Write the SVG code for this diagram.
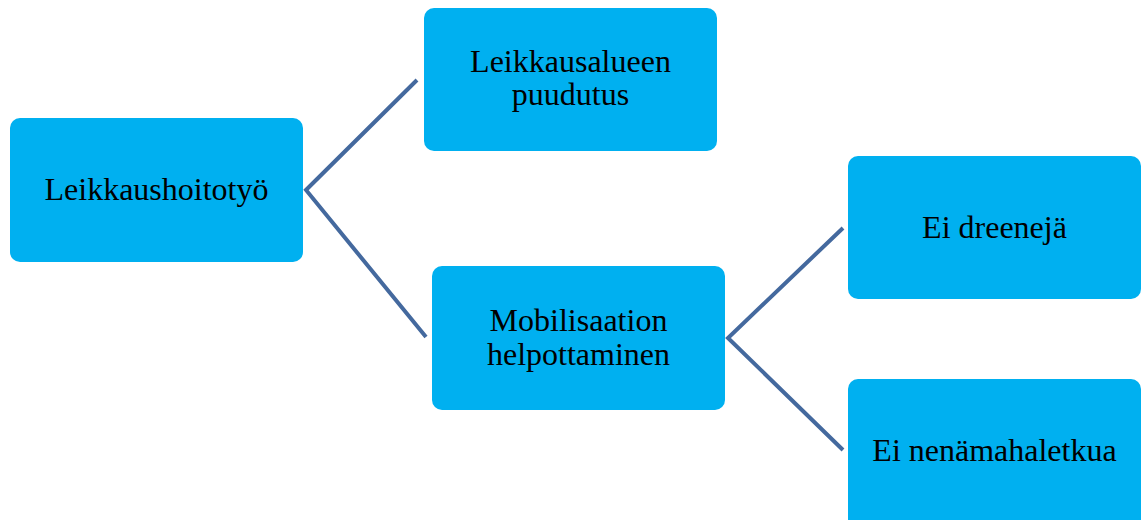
<svg xmlns="http://www.w3.org/2000/svg" width="1141" height="520" viewBox="0 0 1141 520">
<style>
.box{fill:#00B0F0;}
.t{font-family:"Liberation Serif","Times New Roman",serif;font-size:32px;fill:#000;text-anchor:middle;}
.c{stroke:#44699E;stroke-width:4;fill:none;}
</style>
<rect width="1141" height="520" fill="#fff"/>
<g id="connectors">
<path class="c" d="M417,80 L306,190 L426,337"/>
<path class="c" d="M843,228 L728,338 L843,450"/>
</g>
<g id="n1"><rect class="box" x="10" y="118" width="293" height="144" rx="10"/><text class="t" x="156.5" y="200">Leikkaushoitotyö</text></g>
<g id="n2"><rect class="box" x="424" y="8" width="293" height="143" rx="10"/><text class="t" x="570.5" y="72">Leikkausalueen</text><text class="t" x="570.5" y="105">puudutus</text></g>
<g id="n3"><rect class="box" x="432" y="266" width="293" height="144" rx="10"/><text class="t" x="578.5" y="331">Mobilisaation</text><text class="t" x="578.5" y="365">helpottaminen</text></g>
<g id="n4"><rect class="box" x="848" y="156" width="293" height="143" rx="10"/><text class="t" x="994.5" y="238">Ei dreenejä</text></g>
<g id="n5"><rect class="box" x="848" y="379" width="293" height="150" rx="10"/><text class="t" x="994.5" y="461">Ei nenämahaletkua</text></g>
</svg>
